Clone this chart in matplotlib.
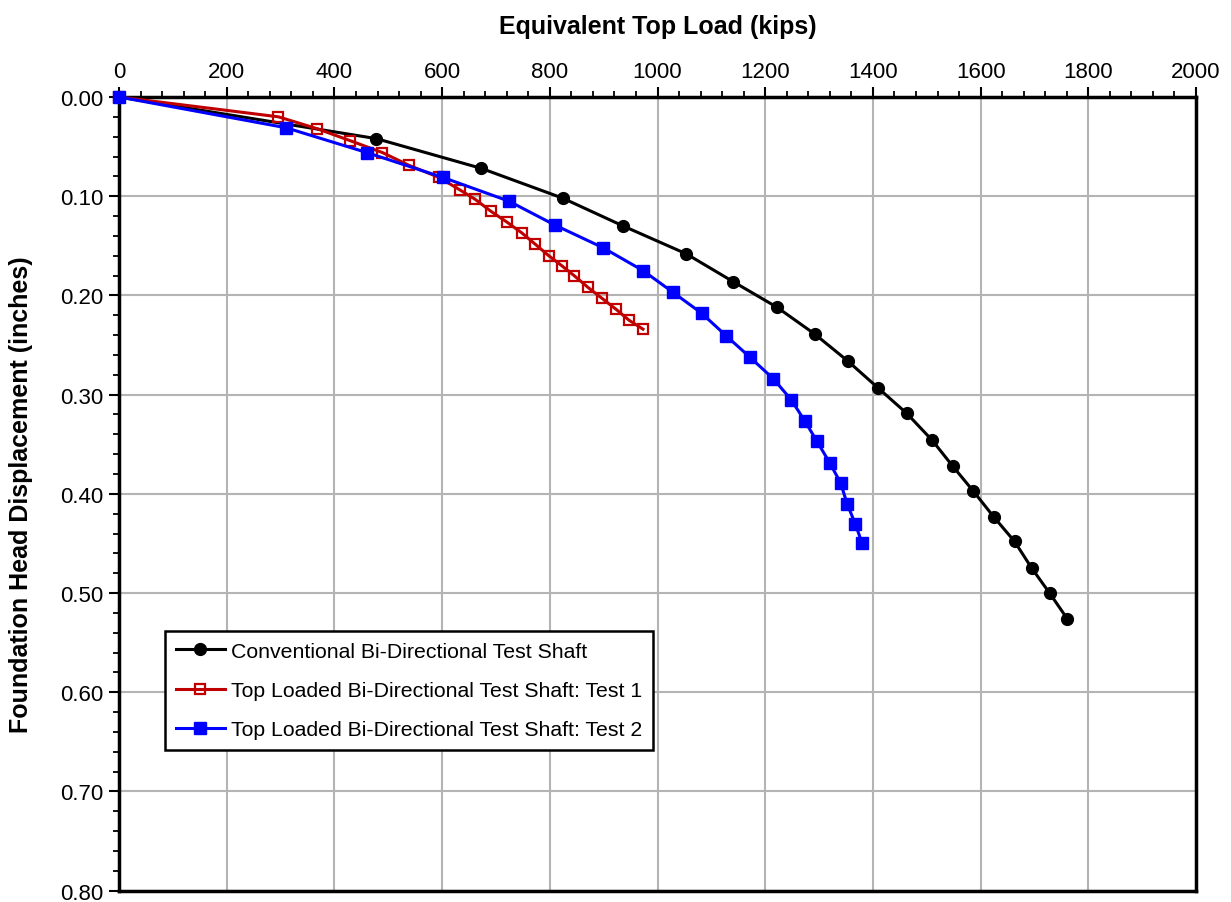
import numpy as np
import matplotlib
matplotlib.use('Agg')
import matplotlib.pyplot as plt
from matplotlib.ticker import MultipleLocator

plt.rcParams['font.family'] = ['Liberation Sans', 'DejaVu Sans']

# Data
conv_load = [0, 478, 673, 824, 936, 1053, 1140, 1222, 1292, 1353, 1409, 1463,
             1510, 1548, 1586, 1624, 1663, 1695, 1728, 1761]
conv_disp = [0.0, 0.042, 0.072, 0.102, 0.130, 0.158, 0.186, 0.212, 0.239, 0.266,
             0.293, 0.319, 0.346, 0.372, 0.397, 0.423, 0.448, 0.475, 0.500, 0.526]

test1_load = [0, 296, 368, 429, 489, 539, 594, 634, 661, 690, 720, 748, 772,
              798, 822, 845, 871, 897, 923, 947, 973]
test1_disp = [0.0, 0.020, 0.032, 0.044, 0.056, 0.069, 0.081, 0.094, 0.103, 0.115,
              0.126, 0.137, 0.148, 0.160, 0.170, 0.180, 0.192, 0.203, 0.214,
              0.225, 0.234]

test2_load = [0, 310, 460, 601, 724, 809, 899, 973, 1029, 1082, 1128, 1171,
              1215, 1248, 1274, 1296, 1320, 1340, 1352, 1367, 1380]
test2_disp = [0.0, 0.031, 0.056, 0.081, 0.105, 0.129, 0.152, 0.175, 0.197, 0.218,
              0.241, 0.262, 0.284, 0.305, 0.327, 0.347, 0.369, 0.389, 0.410,
              0.430, 0.450]

labels = ['Conventional Bi-Directional Test Shaft',
          'Top Loaded Bi-Directional Test Shaft: Test 1',
          'Top Loaded Bi-Directional Test Shaft: Test 2']

fig = plt.figure(figsize=(12.31, 9.03), dpi=100)
ax = fig.add_axes([0.0967, 0.0125, 0.8749, 0.879])

ax.plot(conv_load, conv_disp, '-o', color='black', lw=2.2, ms=8.5,
        label=labels[0], zorder=3, clip_on=False)
ax.plot(test1_load, test1_disp, '-s', color='#c00000', lw=2.2, ms=7.5,
        mfc='none', mec='#c00000', mew=1.6, label=labels[1], zorder=4,
        clip_on=False)
ax.plot(test2_load, test2_disp, '-s', color='#0000ff', lw=2.2, ms=8.5,
        label=labels[2], zorder=5, clip_on=False)

ax.set_xlim(0, 2000)
ax.set_ylim(0.8, 0.0)
ax.xaxis.tick_top()
ax.xaxis.set_label_position('top')
ax.xaxis.set_major_locator(MultipleLocator(200))
ax.xaxis.set_minor_locator(MultipleLocator(40))
ax.yaxis.set_major_locator(MultipleLocator(0.1))
ax.yaxis.set_minor_locator(MultipleLocator(0.02))
ax.yaxis.set_major_formatter(plt.FormatStrFormatter('%.2f'))

ax.grid(True, which='major', color='#b4b4b4', lw=1.5)
ax.set_axisbelow(True)
for s in ax.spines.values():
    s.set_linewidth(2.5)
    s.set_color('black')

ax.tick_params(which='major', direction='out', length=7, width=1.5,
               labelsize=16, pad=4)
ax.tick_params(which='minor', direction='out', length=4, width=1.3)
ax.tick_params(axis='x', which='both', top=True, bottom=False)

ax.set_xlabel('Equivalent Top Load (kips)', fontsize=18, fontweight='bold',
              labelpad=20)
ax.set_ylabel('Foundation Head Displacement (inches)', fontsize=18,
              fontweight='bold', labelpad=20)

leg = ax.legend(loc='upper left', bbox_to_anchor=(0.043, 0.327),
                borderaxespad=0, fontsize=15.3, frameon=True, fancybox=False,
                edgecolor='black', framealpha=1, handlelength=2.3,
                labelspacing=0.95, borderpad=0.5, handletextpad=0.3)
leg.get_frame().set_linewidth(1.8)

fig.savefig('out.png', dpi=100)
